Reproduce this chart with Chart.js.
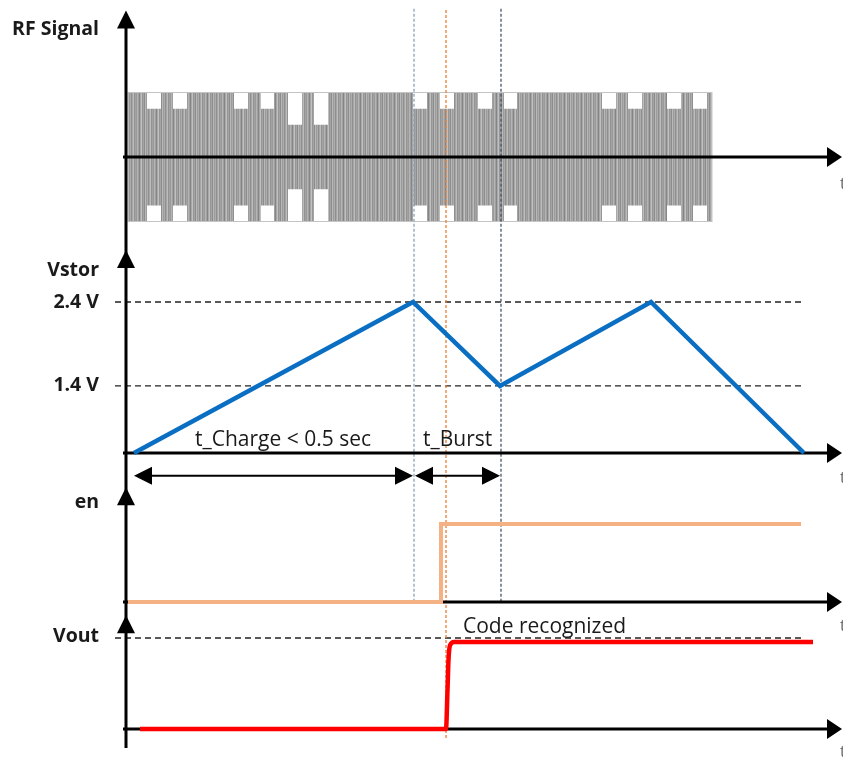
<!DOCTYPE html>
<html><head><meta charset="utf-8">
<script src="https://cdn.jsdelivr.net/npm/chart.js@4/dist/chart.umd.min.js"></script>
<style>html,body{margin:0;padding:0;background:#fff}canvas{display:block}</style>
</head><body>
<canvas id="c" width="843" height="762"></canvas>
<script>
// ---------------- data (time in arbitrary units, 0 = vertical axis) ----------------
const rfBurstStart = 2;
const rfBurstEnd = 586;
const rfNotchStart = [21, 47, 108, 135, 162, 188, 287, 314, 352, 378, 476, 502, 541, 567];
const rfNotchEnd   = [35, 61, 122, 148, 176, 202, 301, 328, 366, 391, 490, 516, 555, 581];
const rfNotchAmp   = [0.75, 0.75, 0.75, 0.75, 0.5, 0.5, 0.75, 0.75, 0.75, 0.75, 0.75, 0.75, 0.75, 0.75];

const vstorTime  = [8, 287, 374, 525, 678];
const vstorVolts = [0.6, 2.4, 1.4, 2.4, 0.6];
const vstorFloor = 0.6;
const vstorTickVolts  = [2.4, 1.4];
const vstorTickLabels = ['2.4 V', '1.4 V'];

const enTime  = [2, 315, 315, 675];
const enLevel = [0, 0, 1, 1];

const voutTime  = [14, 320, 321.5, 322.5, 324, 328, 687];
const voutLevel = [0, 0, 0.43, 0.76, 0.92, 0.956, 0.956];
const voutThreshold = 1;

const tPeak = 288;       // end of charge
const tEnable = 320;     // enable edge
const tBurstEnd = 375;   // end of burst
const tChargeStart = 8;
const tEnd = 717;

const panelLabels = ['RF Signal', 'Vstor', 'en', 'Vout'];
const chargeLabel = 't_Charge < 0.5 sec';
const burstLabel = 't_Burst';
const codeLabel = 'Code recognized';

// ---------------- layout helpers ----------------
const H = 762;
function fit(vA, pA, vB, pB) {
  const k = (pA - pB) / (vB - vA);
  return { min: vA - (H - pA) / k, max: vB + pB / k };
}
const rfRange = fit(-1, 221.5, 1, 92.5);
const vsRange = fit(vstorFloor, 453, 2.4, 302);
const enRange = fit(0, 602, 1, 524);
const voRange = fit(0, 729, 1, 638);

function zip(xs, ys) { return xs.map((x, i) => ({ x, y: ys[i] })); }
function envelope(sign) {
  const pts = [{ x: rfBurstStart, y: sign }];
  rfNotchStart.forEach((s, i) => {
    pts.push({ x: s, y: sign }, { x: s, y: sign * rfNotchAmp[i] },
             { x: rfNotchEnd[i], y: sign * rfNotchAmp[i] }, { x: rfNotchEnd[i], y: sign });
  });
  pts.push({ x: rfBurstEnd, y: sign });
  return pts;
}

// carrier texture
function carrierPattern() {
  const cols = ['#9a9a9a','#b4b4b4','#a0a0a0','#858585','#a8a8a8','#c0c0c0','#969696','#a4a4a4','#8c8c8c','#b8b8b8','#9c9c9c','#acacac','#8f8f8f','#a6a6a6','#bcbcbc','#939393','#a2a2a2'];
  const c = document.createElement('canvas');
  c.width = cols.length; c.height = 4;
  const g = c.getContext('2d');
  cols.forEach((col, i) => { g.fillStyle = col; g.fillRect(i, 0, 1, 4); });
  return g.createPattern(c, 'repeat');
}

const FONT = '"Open Sans", Lato, sans-serif';

function arrowHead(ctx, tipX, tipY, dir, len, half) {
  ctx.beginPath();
  if (dir === 'up') { ctx.moveTo(tipX, tipY); ctx.lineTo(tipX - half, tipY + len); ctx.lineTo(tipX + half, tipY + len); }
  if (dir === 'right') { ctx.moveTo(tipX, tipY); ctx.lineTo(tipX - len, tipY - half); ctx.lineTo(tipX - len, tipY + half); }
  if (dir === 'left') { ctx.moveTo(tipX, tipY); ctx.lineTo(tipX + len, tipY - half); ctx.lineTo(tipX + len, tipY + half); }
  ctx.closePath(); ctx.fill();
}

const diagram = {
  id: 'diagram',
  afterDatasetDraw(chart, args) {
    if (chart.data.datasets[args.index].role !== 'rfTop') return;
    const ctx = chart.ctx, s = chart.scales;
    const X = v => s.x.getPixelForValue(v);
    const yRF = v => s.yRF.getPixelForValue(v);
    const yVS = v => s.yVS.getPixelForValue(v);
    const yEN = v => s.yEN.getPixelForValue(v);
    const yVO = v => s.yVO.getPixelForValue(v);
    ctx.save();
    // RF outline
    ctx.strokeStyle = '#c4c4c4'; ctx.lineWidth = 1;
    ctx.strokeRect(X(rfBurstStart), yRF(1), X(rfBurstEnd) - X(rfBurstStart), yRF(-1) - yRF(1));

    // horizontal dashed reference levels
    ctx.strokeStyle = '#222'; ctx.lineWidth = 1.3; ctx.setLineDash([6, 4]);
    vstorTickVolts.forEach(v => { ctx.beginPath(); ctx.moveTo(X(-11), yVS(v)); ctx.lineTo(X(679), yVS(v)); ctx.stroke(); });
    ctx.beginPath(); ctx.moveTo(X(-11), yVO(voutThreshold)); ctx.lineTo(X(679), yVO(voutThreshold)); ctx.stroke();

    // vertical markers
    ctx.lineWidth = 1.3; ctx.setLineDash([3, 2]);
    const markers = [[tPeak, '#8da0b8', yRF(2.3), yEN(0)], [tBurstEnd, '#44546A', yRF(2.3), yEN(0)], [tEnable, '#ED7D31', yRF(2.28), yVO(-0.12)]];
    markers.forEach(([t, col, y0, y1]) => { ctx.strokeStyle = col; ctx.beginPath(); ctx.moveTo(X(t), y0); ctx.lineTo(X(t), y1); ctx.stroke(); });
    ctx.setLineDash([]);

    // axes
    ctx.strokeStyle = '#000'; ctx.fillStyle = '#000'; ctx.lineWidth = 3;
    ctx.beginPath(); ctx.moveTo(X(0), yRF(2.1)); ctx.lineTo(X(0), yVO(-0.21)); ctx.stroke();
    [[yRF(2.27)], [yVS(3.02)], [yEN(1.47)], [yVO(1.25)]].forEach(([y]) => arrowHead(ctx, X(0), y, 'up', 18, 9));
    [yRF(0), yVS(vstorFloor), yEN(0), yVO(0)].forEach(y => {
      ctx.beginPath(); ctx.moveTo(X(-3), y); ctx.lineTo(X(tEnd - 12), y); ctx.stroke();
      arrowHead(ctx, X(tEnd) - 1, y, 'right', 15, 10);
    });

    // panel labels
    ctx.font = 'bold 19.5px ' + FONT; ctx.textAlign = 'right'; ctx.textBaseline = 'middle'; ctx.fillStyle = '#1a1a1a';
    ctx.fillText(panelLabels[0], X(-27), yRF(1.97));
    ctx.fillText(panelLabels[1], X(-27), yVS(2.78));
    vstorTickVolts.forEach((v, i) => ctx.fillText(vstorTickLabels[i], X(-27), yVS(v)));
    ctx.fillText(panelLabels[2], X(-27), yEN(1.28));
    ctx.fillText(panelLabels[3], X(-27), yVO(1.02));

    // "t" labels (cut at the right edge)
    ctx.font = '16px ' + FONT; ctx.textAlign = 'left'; ctx.fillStyle = '#666';
    [yRF(-0.43), yVS(0.3), yEN(-0.31), yVO(-0.26)].forEach(y => ctx.fillText('t', X(tEnd) - 3, y));

    // interval arrows
    ctx.fillStyle = '#000'; ctx.strokeStyle = '#000'; ctx.lineWidth = 2;
    const ya = yVS(0.33);
    [[tChargeStart, tPeak - 1], [tPeak + 1, tBurstEnd - 1]].forEach(([a, b]) => {
      ctx.beginPath(); ctx.moveTo(X(a) + 10, ya); ctx.lineTo(X(b) - 10, ya); ctx.stroke();
      arrowHead(ctx, X(a), ya, 'left', 18, 9);
      arrowHead(ctx, X(b), ya, 'right', 18, 9);
    });

    // interval text
    ctx.font = '21px ' + FONT; ctx.textAlign = 'left'; ctx.fillStyle = '#1a1a1a';
    ctx.fillText(chargeLabel, X(69), yVS(0.75));
    ctx.fillText(burstLabel, X(297), yVS(0.75));
    ctx.fillText(codeLabel, X(337), yVO(1.12));
    ctx.restore();
  }
};

const pattern = carrierPattern();
const common = { pointRadius: 0, pointHoverRadius: 0, tension: 0 };

new Chart(document.getElementById('c'), {
  type: 'line',
  data: {
    datasets: [
      { ...common, role: 'rfTop', data: envelope(1), yAxisID: 'yRF', fill: '+1', backgroundColor: pattern,
        borderColor: 'rgba(0,0,0,0)', borderWidth: 0, order: 20 },
      { ...common, role: 'rfBottom', data: envelope(-1), yAxisID: 'yRF', fill: false,
        borderColor: 'rgba(0,0,0,0)', borderWidth: 0, order: 21 },
      { ...common, data: zip(vstorTime, vstorVolts), yAxisID: 'yVS', borderColor: '#0a6fc2', borderWidth: 4.5,
        borderJoinStyle: 'miter', fill: false, order: 0 },
      { ...common, data: zip(enTime, enLevel), yAxisID: 'yEN', borderColor: '#F4B183', borderWidth: 4,
        borderJoinStyle: 'miter', fill: false, order: 0 },
      { ...common, data: zip(voutTime, voutLevel), yAxisID: 'yVO', borderColor: '#FF0000', borderWidth: 4.5,
        cubicInterpolationMode: 'monotone', fill: false, order: 0 }
    ]
  },
  options: {
    responsive: false, animation: false, parsing: true,
    layout: { padding: 0 },
    plugins: { legend: { display: false }, tooltip: { enabled: false } },
    events: [],
    scales: {
      x: { type: 'linear', min: -126, max: 717, display: false },
      yRF: { type: 'linear', position: 'left', min: rfRange.min, max: rfRange.max, display: false },
      yVS: { type: 'linear', position: 'left', min: vsRange.min, max: vsRange.max, display: false },
      yEN: { type: 'linear', position: 'left', min: enRange.min, max: enRange.max, display: false },
      yVO: { type: 'linear', position: 'left', min: voRange.min, max: voRange.max, display: false }
    }
  },
  plugins: [diagram]
});
</script>
</body></html>
